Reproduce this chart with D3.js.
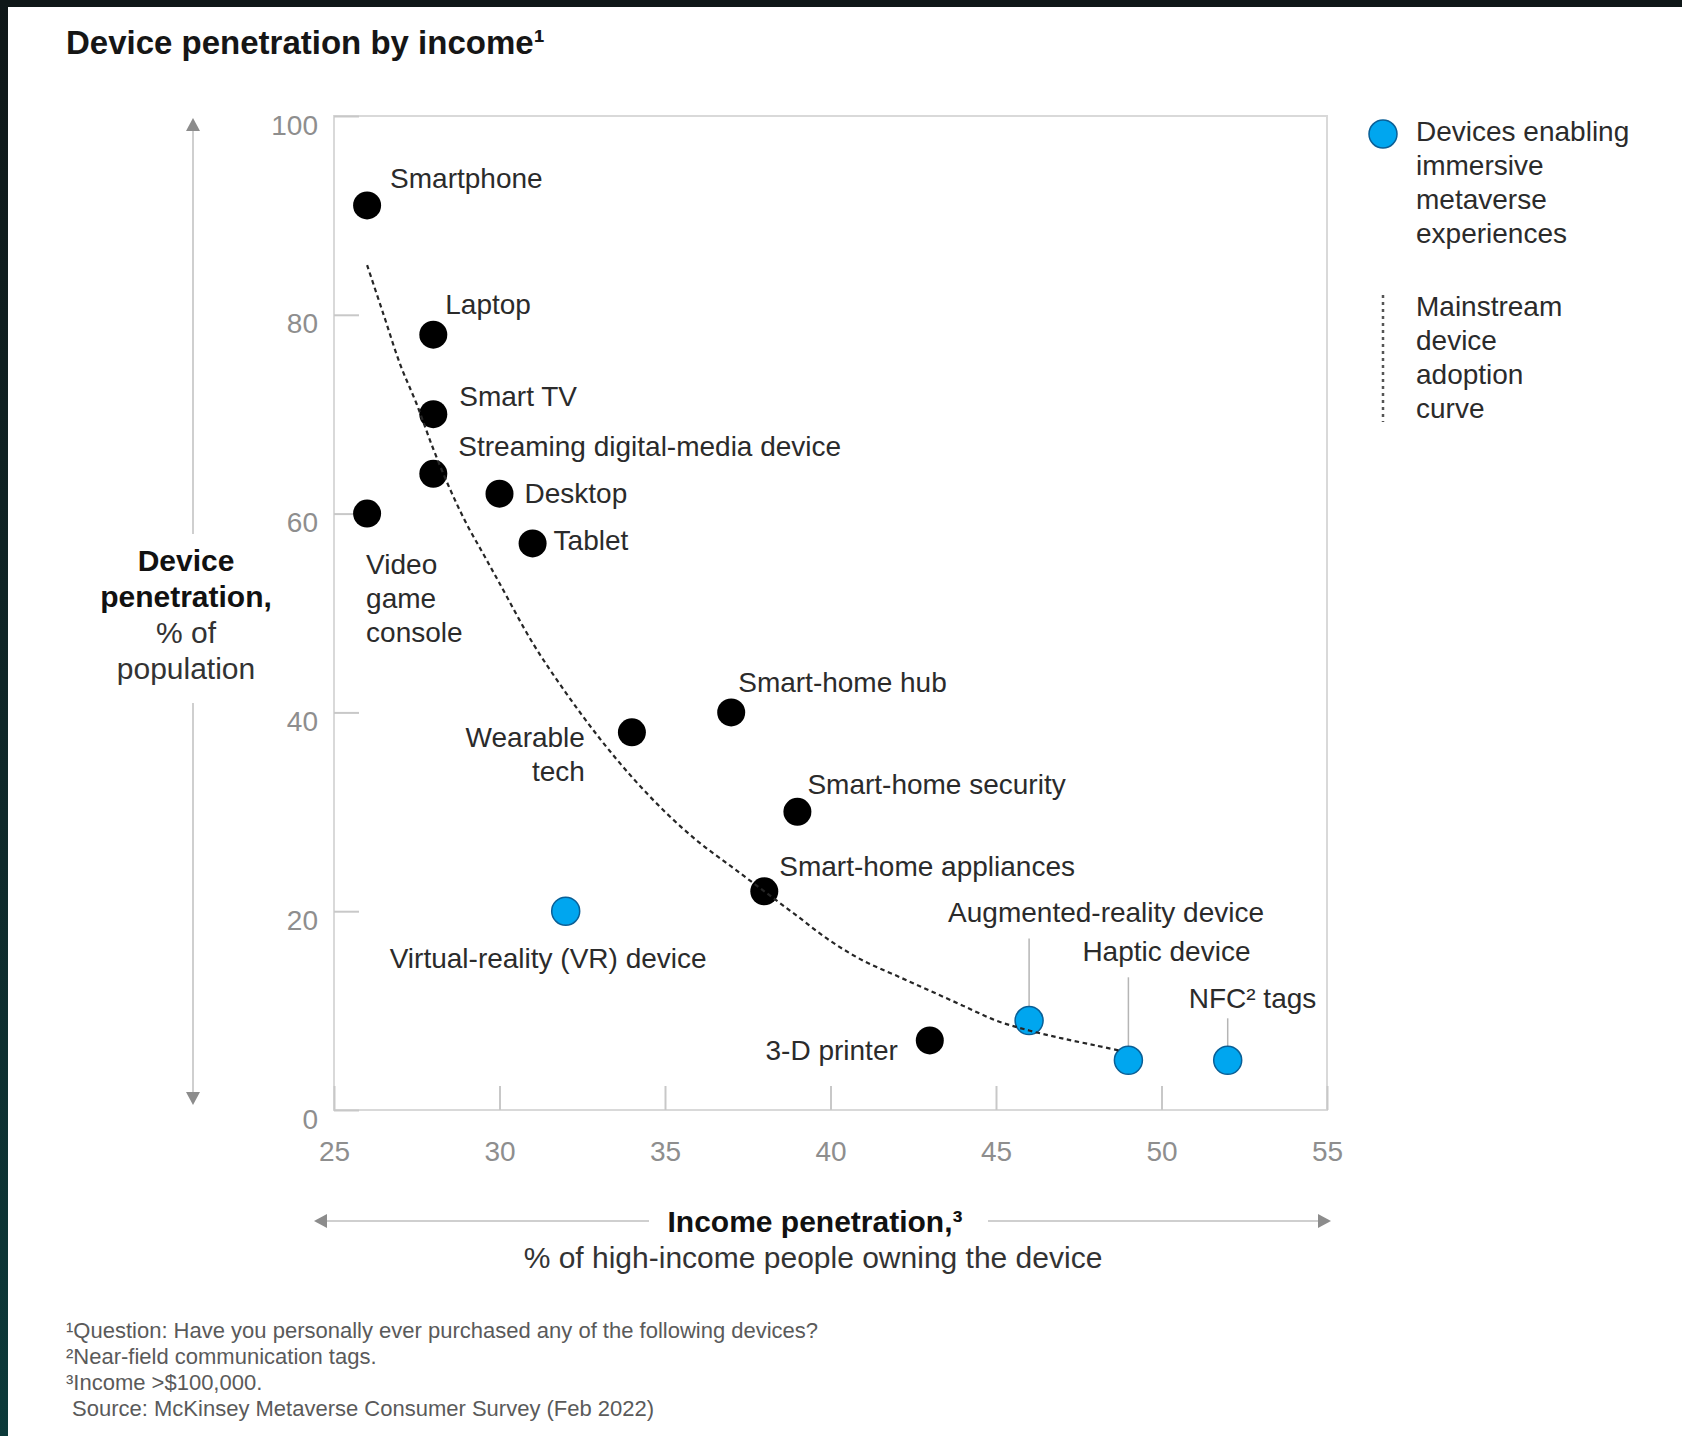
<!DOCTYPE html>
<html>
<head>
<meta charset="utf-8">
<script src="https://cdn.jsdelivr.net/npm/d3@7"></script>
<style>
html, body { margin: 0; padding: 0; background: #0e1719; }
svg { display: block; }
</style>
</head>
<body>
<svg id="chart"></svg>
<script>
// values
var devices = ["Smartphone", "Laptop", "Smart TV", "Streaming digital-media device", "Video game console",
               "Desktop", "Tablet", "Wearable tech", "Smart-home hub", "Smart-home security",
               "Smart-home appliances", "Virtual-reality (VR) device", "3-D printer",
               "Augmented-reality device", "Haptic device", "NFC² tags"]
var incomePen = [26, 28, 28, 28, 26, 30, 31, 34, 37, 39, 38, 32, 43, 46, 49, 52]
var devicePen = [91, 78, 70, 64, 60, 62, 57, 38, 40, 30, 22, 20, 7, 9, 5, 5]
var immersive = [0, 0, 0, 0, 0, 0, 0, 0, 0, 0, 0, 1, 0, 1, 1, 1]

// adoption curve
var curveX = [26, 26.5, 27, 27.5, 28, 28.5, 29, 29.5, 30, 31, 32, 33, 34, 35, 36, 37, 38, 39, 40, 41, 42, 43, 44, 45, 46, 47, 48, 48.7]
var curveY = [85, 80, 75, 71, 66.5, 62.5, 59, 56, 53, 47, 42, 37.5, 33.5, 30, 27, 24.5, 22, 19.5, 17, 15, 13.5, 12, 10.5, 9, 8, 7.2, 6.5, 6]

var xTicks = [25, 30, 35, 40, 45, 50, 55]
var yTicks = [0, 20, 40, 60, 80, 100]

var footnotes = ["¹Question: Have you personally ever purchased any of the following devices?",
                 "²Near-field communication tags.",
                 "³Income >$100,000.",
                 " Source: McKinsey Metaverse Consumer Survey (Feb 2022)"]

// label placement (offsets from the dot centre)
var labelLayout = {
    "Smartphone": {dx: 23, dy: -17},
    "Laptop": {dx: 12, dy: -21},
    "Smart TV": {dx: 26, dy: -8},
    "Streaming digital-media device": {dx: 25, dy: -18},
    "Video game console": {dx: -1, dy: 60, lines: ["Video", "game", "console"]},
    "Desktop": {dx: 25, dy: 9},
    "Tablet": {dx: 21, dy: 7},
    "Wearable tech": {dx: -47, dy: 15, anchor: "end", lines: ["Wearable", "tech"]},
    "Smart-home hub": {dx: 7, dy: -20},
    "Smart-home security": {dx: 10, dy: -18},
    "Smart-home appliances": {dx: 15, dy: -15},
    "Virtual-reality (VR) device": {dx: -176, dy: 57},
    "3-D printer": {dx: -32, dy: 20, anchor: "end"},
    "Augmented-reality device": {dx: -81, dy: -99, leader: -82},
    "Haptic device": {dx: -46, dy: -99, leader: -83},
    "NFC² tags": {dx: -39, dy: -52, leader: -42}
}

var W = 1682, H = 1436
var plot = {left: 334, right: 1327, top: 116, bottom: 1110}
var font = "'Liberation Sans', Arial, sans-serif"

var svg = d3.select("#chart")
    .attr("width", W)
    .attr("height", H)
    .style("font-family", font)

// dark frame + white card
var grad = svg.append("defs").append("linearGradient")
    .attr("id", "bg").attr("x1", 0).attr("y1", 0).attr("x2", 0).attr("y2", 1)
grad.append("stop").attr("offset", "0%").attr("stop-color", "#0f1718")
grad.append("stop").attr("offset", "60%").attr("stop-color", "#0f2a2b")
grad.append("stop").attr("offset", "100%").attr("stop-color", "#0c3a3a")
svg.append("rect").attr("width", W).attr("height", H).attr("fill", "url(#bg)")
svg.append("rect").attr("x", 8).attr("y", 7).attr("width", W - 8).attr("height", H - 7).attr("fill", "#fff")

// title
svg.append("text")
    .attr("x", 66).attr("y", 54)
    .attr("font-size", 33).attr("font-weight", "bold").attr("fill", "#161616")
    .text("Device penetration by income¹")

var xScale = d3.scaleLinear().domain([25, 55]).range([plot.left, plot.right])
var yScale = d3.scaleLinear().domain([0, 100]).range([plot.bottom, plot.top])

// frame
svg.append("rect")
    .attr("x", plot.left).attr("y", plot.top)
    .attr("width", plot.right - plot.left).attr("height", plot.bottom - plot.top)
    .attr("fill", "none").attr("stroke", "#d9d9d9").attr("stroke-width", 2)

var yAxis = svg.append("g")
    .attr("transform", "translate(" + plot.left + ",0)")
    .call(d3.axisLeft(yScale).tickValues(yTicks).tickSize(-25).tickPadding(16))
yAxis.select(".domain").remove()
yAxis.selectAll(".tick line").attr("stroke", "#c8c8c8").attr("stroke-width", 2)
yAxis.selectAll(".tick text")
    .attr("font-size", 28).attr("font-family", font).attr("fill", "#8e8e8e")
    .attr("dy", 18)

var xAxis = svg.append("g")
    .attr("transform", "translate(0," + plot.bottom + ")")
    .call(d3.axisBottom(xScale).tickValues(xTicks).tickSize(-24).tickPadding(31))
xAxis.select(".domain").remove()
xAxis.selectAll(".tick line").attr("stroke", "#c8c8c8").attr("stroke-width", 2)
xAxis.selectAll(".tick text")
    .attr("font-size", 28).attr("font-family", font).attr("fill", "#8e8e8e")

// y axis arrow + title
var arrowFill = "#8c8c8c", arrowLine = "#cfcfcf"
svg.append("line").attr("x1", 193).attr("x2", 193).attr("y1", 130).attr("y2", 534)
    .attr("stroke", arrowLine).attr("stroke-width", 2)
svg.append("line").attr("x1", 193).attr("x2", 193).attr("y1", 703).attr("y2", 1093)
    .attr("stroke", arrowLine).attr("stroke-width", 2)
svg.append("path").attr("d", "M193,118 L200,131 L186,131 Z").attr("fill", arrowFill)
svg.append("path").attr("d", "M193,1105 L200,1092 L186,1092 Z").attr("fill", arrowFill)

var yTitle = [["Device", "bold"], ["penetration,", "bold"], ["% of", "normal"], ["population", "normal"]]
svg.append("g").selectAll("text").data(yTitle).enter().append("text")
    .attr("x", 186)
    .attr("y", function (d, i) { return 571 + i * 36 })
    .attr("text-anchor", "middle")
    .attr("font-size", 30)
    .attr("font-weight", function (d) { return d[1] })
    .attr("fill", function (d) { return d[1] == "bold" ? "#111" : "#333" })
    .text(function (d) { return d[0] })

// x axis arrow + title
svg.append("line").attr("x1", 326).attr("x2", 649).attr("y1", 1221).attr("y2", 1221)
    .attr("stroke", arrowLine).attr("stroke-width", 2)
svg.append("line").attr("x1", 988).attr("x2", 1319).attr("y1", 1221).attr("y2", 1221)
    .attr("stroke", arrowLine).attr("stroke-width", 2)
svg.append("path").attr("d", "M314,1221 L327,1214 L327,1228 Z").attr("fill", arrowFill)
svg.append("path").attr("d", "M1331,1221 L1318,1214 L1318,1228 Z").attr("fill", arrowFill)

svg.append("text").attr("x", 815).attr("y", 1232)
    .attr("text-anchor", "middle").attr("font-size", 30).attr("font-weight", "bold").attr("fill", "#111")
    .text("Income penetration,³")
svg.append("text").attr("x", 813).attr("y", 1268)
    .attr("text-anchor", "middle").attr("font-size", 30).attr("fill", "#333")
    .text("% of high-income people owning the device")

// points
var points = devices.map(function (name, i) {
    return {name: name, x: incomePen[i], y: devicePen[i], blue: immersive[i] == 1}
})

var R = 14
var blueFill = "#00a6ef", blueStroke = "#0a5f96"

// leader lines for the small-value labels
svg.append("g").selectAll("line")
    .data(points.filter(function (p) { return labelLayout[p.name].leader }))
    .enter().append("line")
    .attr("x1", function (p) { return xScale(p.x) })
    .attr("x2", function (p) { return xScale(p.x) })
    .attr("y1", function (p) { return yScale(p.y) + labelLayout[p.name].leader })
    .attr("y2", function (p) { return yScale(p.y) - R })
    .attr("stroke", "#b5b5b5").attr("stroke-width", 1.5)

svg.append("g").selectAll("circle")
    .data(points)
    .enter()
    .append("circle")
    .attr("cx", function (p) { return xScale(p.x) })
    .attr("cy", function (p) { return yScale(p.y) })
    .attr("r", R)
    .attr("fill", function (p) { return p.blue ? blueFill : "#000" })
    .attr("stroke", function (p) { return p.blue ? blueStroke : "none" })
    .attr("stroke-width", 1.5)

// adoption curve
var curvePts = curveX.map(function (x, i) { return [x, curveY[i]] })
var line = d3.line()
    .x(function (d) { return xScale(d[0]) })
    .y(function (d) { return yScale(d[1]) })
    .curve(d3.curveCatmullRom)
svg.append("path")
    .attr("d", line(curvePts))
    .attr("fill", "none")
    .attr("stroke", "#262626")
    .attr("stroke-width", 2.2)
    .attr("stroke-dasharray", "4.5,3.5")

// labels
var labels = svg.append("g").selectAll("text")
    .data(points)
    .enter()
    .append("text")
    .attr("font-size", 28)
    .attr("fill", "#2b2b2b")
    .attr("text-anchor", function (p) { return labelLayout[p.name].anchor || "start" })
    .attr("transform", function (p) {
        var L = labelLayout[p.name]
        return "translate(" + (xScale(p.x) + L.dx) + "," + (yScale(p.y) + L.dy) + ")"
    })
labels.each(function (p) {
    var L = labelLayout[p.name]
    var lines = L.lines || [p.name]
    d3.select(this).selectAll("tspan").data(lines).enter().append("tspan")
        .attr("x", 0)
        .attr("y", function (d, i) { return i * 34 })
        .text(function (d) { return d })
})

// legend
svg.append("circle").attr("cx", 1383).attr("cy", 134).attr("r", R)
    .attr("fill", blueFill).attr("stroke", blueStroke).attr("stroke-width", 1.5)
svg.append("line").attr("x1", 1383).attr("x2", 1383).attr("y1", 295).attr("y2", 422)
    .attr("stroke", "#555").attr("stroke-width", 2.5).attr("stroke-dasharray", "3,4")

var legend1 = ["Devices enabling", "immersive", "metaverse", "experiences"]
var legend2 = ["Mainstream", "device", "adoption", "curve"]
svg.append("g").selectAll("text").data(legend1).enter().append("text")
    .attr("x", 1416).attr("y", function (d, i) { return 141 + i * 34 })
    .attr("font-size", 28).attr("fill", "#2b2b2b").text(function (d) { return d })
svg.append("g").selectAll("text").data(legend2).enter().append("text")
    .attr("x", 1416).attr("y", function (d, i) { return 316 + i * 34 })
    .attr("font-size", 28).attr("fill", "#2b2b2b").text(function (d) { return d })

// footnotes
svg.append("g").selectAll("text").data(footnotes).enter().append("text")
    .attr("x", 66).attr("y", function (d, i) { return 1338 + i * 26 })
    .attr("font-size", 22).attr("fill", "#5a5a5a")
    .attr("xml:space", "preserve").style("white-space", "pre")
    .text(function (d) { return d })
</script>
</body>
</html>
